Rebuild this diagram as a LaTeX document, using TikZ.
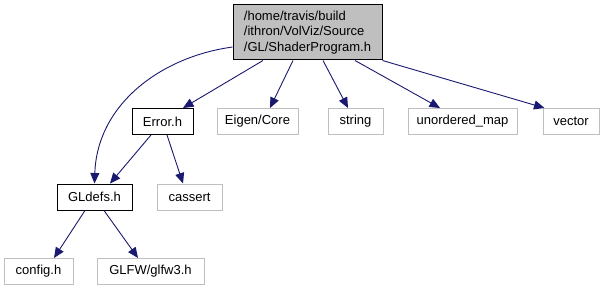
\documentclass[tikz,border=0pt]{standalone}
\usepackage{fontspec}
\setmainfont{Liberation Sans}
\usetikzlibrary{positioning}
\usetikzlibrary{arrows.meta}
\definecolor{edgeblue}{RGB}{25,25,112}
\definecolor{boxgray}{HTML}{bfbfbf}
\tikzset {
  x=1pt, y=-1pt,
  % every header box
  hdr/.style = {draw, rectangle, line width=1pt, inner sep=0pt, minimum height=26pt,
    font=\fontsize{13}{15.3}\selectfont},
  % headers of the project itself
  local/.style={hdr, draw=black},
  % system and library headers
  system/.style={hdr, draw=boxgray},
  % the file whose includes are shown
  top/.style={local, fill=boxgray, align=left, minimum height=55pt},
  % include edges
  incl/.style={edgeblue, line width=0.9pt, -{Triangle[length=10.5pt,width=9pt]}},
}

\begin{document}
\begin{tikzpicture}
        \useasboundingbox (0,0) rectangle (607,291);

        \node[top, minimum width=149pt] (prog) at (307.5,32.5)
          {/home/travis/build\\/ithron/VolViz/Source\\/GL/ShaderProgram.h};

        \node[local, minimum width=61pt] (error) at (162.5,121.5) {Error.h};
        \node[system, minimum width=81pt] (eigen) at (257.5,121.5) {Eigen/Core};
        \node[system, minimum width=55pt] (string) at (355.5,121.5) {string};
        \node[system, minimum width=109pt] (umap) at (462.5,121.5) {unordered\_map};
        \node[system, minimum width=56pt] (vector) at (571,121.5) {vector};

        \node[local, minimum width=75pt] (gldefs) at (94.5,197) {GLdefs.h};
        \node[system, minimum width=65pt] (cassert) at (189.5,197) {cassert};

        \node[system, minimum width=69pt] (config) at (38.5,271.5) {config.h};
        \node[system, minimum width=107pt] (glfw) at (150.5,271.5) {GLFW/glfw3.h};

        \draw [incl] ([yshift=-14.5pt]prog.west) .. controls (160,57) and (97,105) .. (gldefs.north);
        \draw [incl] ([xshift=-44.5pt]prog.south) -- ([xshift=20.5pt]error.north);
        \draw [incl] ([xshift=-14.5pt]prog.south) -- ([xshift=12.5pt]eigen.north);
        \draw [incl] ([xshift=15.5pt]prog.south) -- ([xshift=-7.5pt]string.north);
        \draw [incl] ([xshift=47.5pt]prog.south) -- ([xshift=-22.5pt]umap.north);
        \draw [incl] (prog.south east) -- ([xshift=2pt]vector.north west);

        \draw [incl] ([xshift=-11.5pt]error.south) -- ([xshift=15.5pt]gldefs.north);
        \draw [incl] ([xshift=4.5pt]error.south) -- ([xshift=-6.5pt]cassert.north);

        \draw [incl] ([xshift=-9.5pt]gldefs.south) -- ([xshift=15.5pt]config.north);
        \draw [incl] ([xshift=9.5pt]gldefs.south) -- ([xshift=-12.5pt]glfw.north);
      \end{tikzpicture}
\end{document}
